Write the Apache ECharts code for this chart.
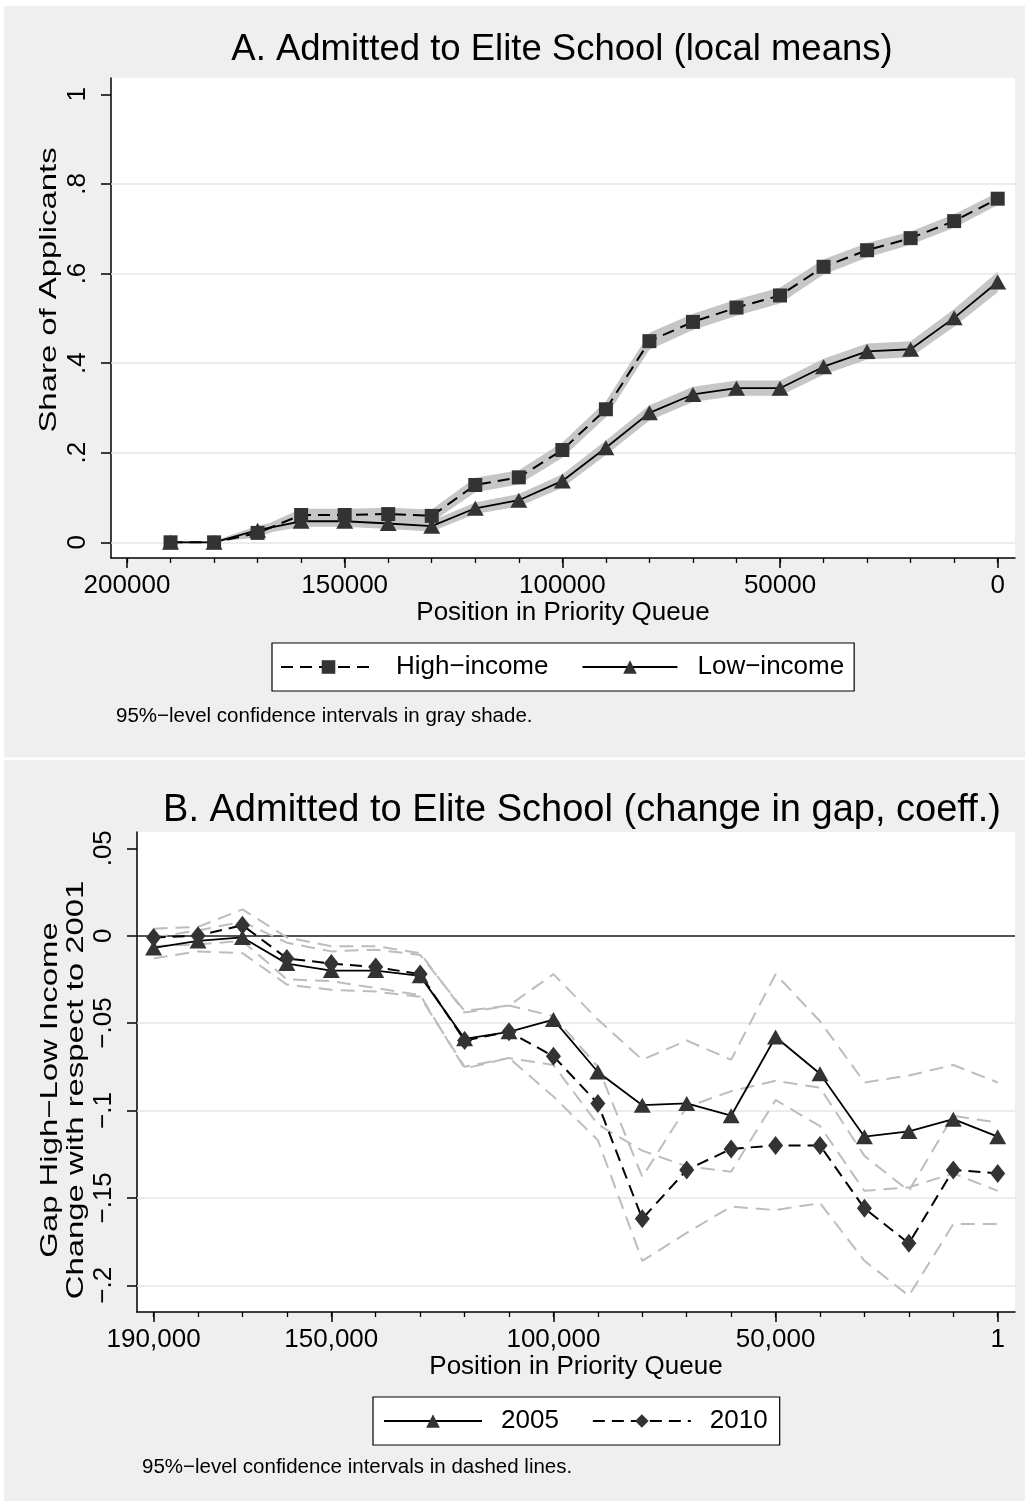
<!DOCTYPE html>
<html>
<head>
<meta charset="utf-8">
<script src="https://cdn.jsdelivr.net/npm/echarts@6/dist/echarts.min.js"></script>
<style>
  html, body { margin: 0; padding: 0; background: #fff; }
  #chart { width: 1025px; height: 1501px; }
</style>
</head>
<body>
<div id="chart"></div>
<script>
const FONT = '"Liberation Sans", Arial, Helvetica, sans-serif';

// ---- Panel A: share admitted to an elite school (local means) ----
const queuePosA = [190000, 180000, 170000, 160000, 150000, 140000, 130000, 120000, 110000, 100000,
                   90000, 80000, 70000, 60000, 50000, 40000, 30000, 20000, 10000, 0];
const highIncome   = [0.000, 0.000, 0.021, 0.061, 0.061, 0.063, 0.059, 0.128, 0.145, 0.206,
                      0.297, 0.449, 0.492, 0.524, 0.551, 0.615, 0.652, 0.679, 0.717, 0.767];
const highIncomeLo = [0.000, 0.000, 0.011, 0.047, 0.047, 0.049, 0.045, 0.112, 0.129, 0.189,
                      0.279, 0.430, 0.474, 0.506, 0.533, 0.598, 0.636, 0.664, 0.702, 0.753];
const highIncomeHi = [0.003, 0.003, 0.031, 0.075, 0.075, 0.077, 0.073, 0.144, 0.161, 0.223,
                      0.315, 0.468, 0.510, 0.542, 0.569, 0.632, 0.668, 0.694, 0.732, 0.781];
const lowIncome    = [0.000, 0.000, 0.027, 0.047, 0.047, 0.042, 0.036, 0.076, 0.094, 0.137,
                      0.211, 0.289, 0.330, 0.344, 0.344, 0.392, 0.426, 0.431, 0.501, 0.581];
const lowIncomeLo  = [0.000, 0.000, 0.017, 0.035, 0.035, 0.030, 0.024, 0.063, 0.080, 0.122,
                      0.195, 0.272, 0.313, 0.327, 0.327, 0.374, 0.408, 0.413, 0.481, 0.558];
const lowIncomeHi  = [0.003, 0.003, 0.037, 0.059, 0.059, 0.054, 0.048, 0.089, 0.108, 0.152,
                      0.227, 0.306, 0.347, 0.361, 0.361, 0.410, 0.444, 0.449, 0.521, 0.604];
const shareTicks   = [0, 0.2, 0.4, 0.6, 0.8, 1];
const shareGrid    = [0, 0.2, 0.4, 0.6, 0.8];
const queueTicksA  = [0, 50000, 100000, 150000, 200000];
const queueMinorA  = [0, 10000, 20000, 30000, 40000, 50000, 60000, 70000, 80000, 90000, 100000,
                      110000, 120000, 130000, 140000, 150000, 160000, 170000, 180000, 190000, 200000];

// ---- Panel B: change in the high/low income gap relative to 2001 ----
const queuePosB = [190000, 180000, 170000, 160000, 150000, 140000, 130000, 120000, 110000, 100000,
                   90000, 80000, 70000, 60000, 50000, 40000, 30000, 20000, 10000, 1];
const gap2005   = [-0.007, -0.003, -0.001, -0.016, -0.020, -0.020, -0.023, -0.059, -0.055, -0.048,
                   -0.078, -0.097, -0.096, -0.103, -0.058, -0.079, -0.115, -0.112, -0.105, -0.115];
const gap2005Lo = [-0.013, -0.009, -0.010, -0.028, -0.031, -0.032, -0.035, -0.075, -0.070, -0.074,
                   -0.108, -0.123, -0.132, -0.135, -0.094, -0.109, -0.146, -0.144, -0.136, -0.146];
const gap2005Hi = [-0.001, 0.003, 0.008, -0.004, -0.009, -0.008, -0.011, -0.043, -0.040, -0.022,
                   -0.048, -0.071, -0.060, -0.071, -0.022, -0.049, -0.084, -0.080, -0.074, -0.084];
const gap2010   = [-0.001, 0.000, 0.006, -0.013, -0.016, -0.018, -0.022, -0.060, -0.055, -0.069,
                   -0.096, -0.162, -0.134, -0.122, -0.120, -0.120, -0.156, -0.176, -0.134, -0.136];
const gap2010Lo = [-0.006, -0.005, -0.003, -0.025, -0.026, -0.030, -0.034, -0.076, -0.070, -0.092,
                   -0.117, -0.186, -0.170, -0.155, -0.157, -0.153, -0.186, -0.206, -0.165, -0.165];
const gap2010Hi = [0.004, 0.005, 0.015, -0.001, -0.006, -0.006, -0.010, -0.044, -0.040, -0.046,
                   -0.075, -0.138, -0.098, -0.089, -0.083, -0.087, -0.126, -0.146, -0.103, -0.107];
const gapTicks    = [-0.2, -0.15, -0.1, -0.05, 0, 0.05];
const gapGrid     = [-0.2, -0.15, -0.1, -0.05];
const queueTicksB = [1, 50000, 100000, 150000, 190000];

const BLACK = '#000';
const MARK = '#333';
const BAND = '#c6c6c6';
const CI_LINE = '#bdbdbd';
const GRIDLINE = '#e6e6e6';

const pairs = (xs, ys) => xs.map((x, i) => [x, ys[i]]);
const fmtShare = v => v === 0 ? '0' : v === 1 ? '1' : String(v).replace('0.', '.');
const fmtGap = v => v === 0 ? '0' : String(v).replace('0.', '.').replace('-', '\u2212');
const fmtQueueB = v => v === 1 ? '1' : v.toLocaleString('en-US');

const tickLabel = { fontFamily: FONT, fontSize: 26, color: BLACK };

function mainX(grid, min, max, ticks, fmt, name, nameGap) {
  return {
    type: 'value', gridIndex: grid, inverse: true, min, max,
    name, nameLocation: 'middle', nameGap,
    nameTextStyle: { fontFamily: FONT, fontSize: 26, color: BLACK },
    axisLine: { show: true, onZero: false, lineStyle: { color: BLACK, width: 1.5 } },
    axisTick: { show: true, length: 10, customValues: ticks, lineStyle: { color: BLACK, width: 1.5 } },
    axisLabel: Object.assign({ margin: 15, customValues: ticks, formatter: fmt }, tickLabel),
    splitLine: { show: false }
  };
}
function minorX(grid, min, max, ticks) {
  return {
    type: 'value', gridIndex: grid, inverse: true, min, max, position: 'bottom',
    axisLine: { show: false, onZero: false },
    axisTick: { show: true, length: 5, customValues: ticks, lineStyle: { color: BLACK, width: 1.3 } },
    axisLabel: { show: false },
    splitLine: { show: false }
  };
}
function mainY(grid, min, max, ticks, fmt) {
  return {
    type: 'value', gridIndex: grid, min, max,
    axisLine: { show: true, onZero: false, lineStyle: { color: BLACK, width: 1.5 } },
    axisTick: { show: true, length: 10, customValues: ticks, lineStyle: { color: BLACK, width: 1.5 } },
    axisLabel: Object.assign({ margin: 20, rotate: 90, customValues: ticks, formatter: fmt }, tickLabel),
    splitLine: { show: false }
  };
}

// Confidence band drawn as one filled polygon through the axis scales
function band(xs, lo, hi, xi, yi) {
  return {
    type: 'custom', xAxisIndex: xi, yAxisIndex: yi, z: 1.5, silent: true,
    data: xs.map((x, i) => [x, lo[i], hi[i]]),
    encode: { x: 0, y: [1, 2] },
    renderItem(params, api) {
      if (params.dataIndex !== 0) return null;
      const pts = [];
      for (let i = 0; i < xs.length; i++) pts.push(api.coord([xs[i], lo[i]]));
      for (let i = xs.length - 1; i >= 0; i--) pts.push(api.coord([xs[i], hi[i]]));
      return { type: 'polygon', shape: { points: pts }, style: { fill: BAND } };
    }
  };
}
function hLines(values, xi, yi, color, width, z) {
  return {
    type: 'line', xAxisIndex: xi, yAxisIndex: yi, data: [], silent: true,
    markLine: {
      z, silent: true, symbol: ['none', 'none'], label: { show: false },
      lineStyle: { color, width, type: 'solid' },
      emphasis: { disabled: true },
      data: values.map(v => ({ yAxis: v }))
    }
  };
}
function dataLine(name, xs, ys, xi, yi, symbol, size, dashed) {
  return {
    name, type: 'line', xAxisIndex: xi, yAxisIndex: yi, z: 3,
    data: pairs(xs, ys), symbol, symbolSize: size, showSymbol: true,
    itemStyle: { color: MARK },
    lineStyle: { color: BLACK, width: dashed ? 2 : 1.8, type: dashed ? [12, 7] : 'solid' },
    emphasis: { disabled: true }
  };
}
function ciLine(xs, ys, xi, yi) {
  return {
    type: 'line', xAxisIndex: xi, yAxisIndex: yi, z: 2, silent: true,
    data: pairs(xs, ys), symbol: 'none',
    lineStyle: { color: CI_LINE, width: 2, type: [14, 8] },
    emphasis: { disabled: true }
  };
}
function legendBox(left, top, names, itemWidth, itemGap, textPad, padding) {
  return {
    left, top, orient: 'horizontal', data: names, selectedMode: false,
    itemWidth, itemHeight: 17, itemGap, padding,
    backgroundColor: '#fff', borderColor: BLACK, borderWidth: 1.2, borderRadius: 0,
    formatter: '{t|{name}}',
    textStyle: { fontFamily: FONT, fontSize: 26, color: BLACK,
                 rich: { t: { fontFamily: FONT, fontSize: 26, color: BLACK, padding: [0, 0, 0, textPad] } } }
  };
}
// Vertical axis titles, drawn reading bottom-to-top and stretched along the text
function yTitle(text, x, y) {
  return {
    type: 'text', z: 100, x, y, rotation: Math.PI / 2, scaleX: 1.37,
    style: { text, fontFamily: FONT, fontSize: 24, lineHeight: 26, fill: BLACK,
             textAlign: 'center', textVerticalAlign: 'middle' }
  };
}

const chart = echarts.init(document.getElementById('chart'), null, { renderer: 'canvas' });

chart.setOption({
  animation: false,
  backgroundColor: '#fff',
  graphic: [
    { type: 'rect', z: -100, shape: { x: 4, y: 6, width: 1021, height: 751.5 }, style: { fill: '#efefef' } },
    { type: 'rect', z: -100, shape: { x: 4, y: 760, width: 1021, height: 741 }, style: { fill: '#efefef' } },
    { type: 'text', z: 100, x: 562, y: 50,
      style: { text: 'A. Admitted to Elite School (local means)', fontFamily: FONT, fontSize: 36.5,
               fill: BLACK, textAlign: 'center', textVerticalAlign: 'middle' } },
    { type: 'text', z: 100, x: 582, y: 811,
      style: { text: 'B. Admitted to Elite School (change in gap, coeff.)', fontFamily: FONT, fontSize: 38,
               fill: BLACK, textAlign: 'center', textVerticalAlign: 'middle' } },
    yTitle('Share of Applicants', 49, 290),
    yTitle('Gap High\u2212Low Income\nChange with respect to 2001', 63, 1090),
    { type: 'text', z: 100, x: 116, y: 716,
      style: { text: '95%\u2212level confidence intervals in gray shade.', fontFamily: FONT, fontSize: 20.5,
               fill: BLACK, textAlign: 'left', textVerticalAlign: 'middle' } },
    { type: 'text', z: 100, x: 142, y: 1467,
      style: { text: '95%\u2212level confidence intervals in dashed lines.', fontFamily: FONT, fontSize: 20.5,
               fill: BLACK, textAlign: 'left', textVerticalAlign: 'middle' } }
  ],
  grid: [
    { left: 111, top: 78, width: 904, height: 480, show: true, backgroundColor: '#fff', borderWidth: 0 },
    { left: 137, top: 832, width: 878, height: 480, show: true, backgroundColor: '#fff', borderWidth: 0 }
  ],
  xAxis: [
    mainX(0, -3974, 203676, queueTicksA, v => String(v), 'Position in Priority Queue', 42),
    minorX(0, -3974, 203676, queueMinorA),
    mainX(1, -3892, 193735, queueTicksB, fmtQueueB, 'Position in Priority Queue', 39),
    minorX(1, -3892, 193735, queuePosB)
  ],
  yAxis: [
    mainY(0, -0.035, 1.0364, shareTicks, fmtShare),
    mainY(1, -0.2153, 0.0593, gapTicks, fmtGap)
  ],
  legend: [
    legendBox(272, 643, ['High\u2212income', 'Low\u2212income'], 95, 33, 15, [11, 10, 11, 8]),
    legendBox(373, 1397, ['2005', '2010'], 98, 33, 14, [11, 12, 11, 10])
  ],
  series: [
    // Panel A
    hLines(shareGrid, 0, 0, GRIDLINE, 1.5, 1),
    band(queuePosA, highIncomeLo, highIncomeHi, 0, 0),
    band(queuePosA, lowIncomeLo, lowIncomeHi, 0, 0),
    dataLine('High\u2212income', queuePosA, highIncome, 0, 0, 'rect', 14, true),
    dataLine('Low\u2212income', queuePosA, lowIncome, 0, 0, 'triangle', [17, 15], false),
    // Panel B
    hLines(gapGrid, 2, 1, GRIDLINE, 1.5, 1),
    hLines([0], 2, 1, '#1a1a1a', 1.6, 1.8),
    ciLine(queuePosB, gap2005Lo, 2, 1),
    ciLine(queuePosB, gap2005Hi, 2, 1),
    ciLine(queuePosB, gap2010Lo, 2, 1),
    ciLine(queuePosB, gap2010Hi, 2, 1),
    dataLine('2005', queuePosB, gap2005, 2, 1, 'triangle', [17, 15], false),
    dataLine('2010', queuePosB, gap2010, 2, 1, 'diamond', [15, 19], true)
  ]
});
</script>
</body>
</html>
